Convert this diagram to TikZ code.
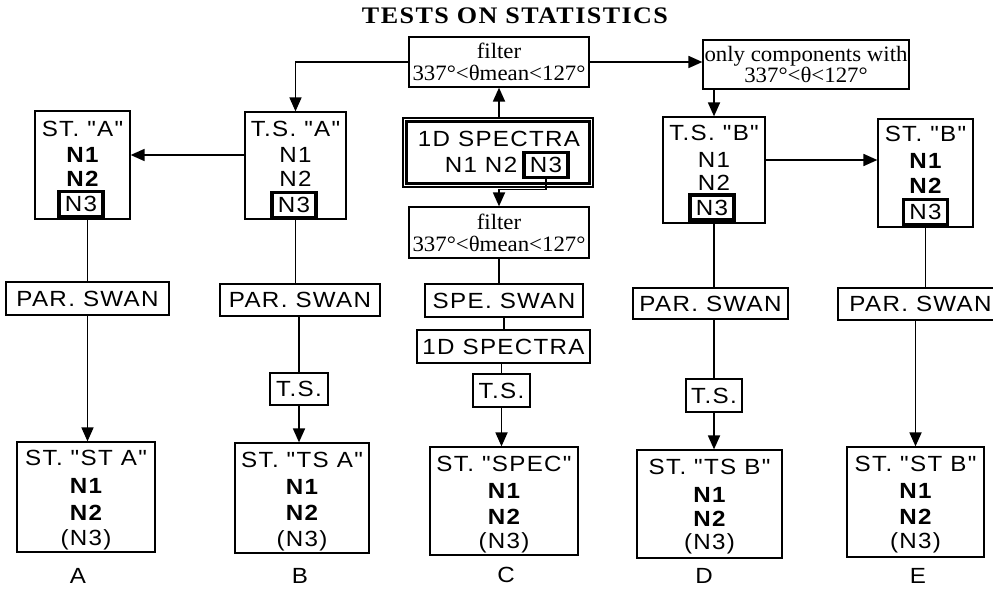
\documentclass[tikz,border=0pt]{standalone}
\usepackage{fontspec}
\usetikzlibrary{arrows.meta}
\setmainfont{Liberation Serif}
\newfontfamily\boxfont[FakeStretch=1.1,LetterSpace=6]{Liberation Sans}
\newfontfamily\notefont[FakeStretch=1.04]{Liberation Serif}
\newfontfamily\headfont[FakeStretch=1.1,LetterSpace=6]{Liberation Serif}
\newlength\unitpx
\setlength\unitpx{0.02cm}
\tikzset{
  frame/.style={draw,line width=.7pt,inner sep=0pt},
  sz/.style 2 args={minimum width=#1\unitpx,minimum height=#2\unitpx},
  word/.style={inner sep=0pt,font=\boxfont\fontsize{12.5}{13}\selectfont},
  bword/.style={inner sep=0pt,font=\boxfont\fontsize{12.5}{13}\selectfont\bfseries},
  nthree/.style={draw,line width=2.2pt,inner sep=0pt,sz={44}{25},font=\boxfont\fontsize{12.5}{13}\selectfont},
  note/.style={frame,align=center,font=\notefont\fontsize{12.5}{12.5}\selectfont},
  flow/.style={line width=1pt},
  arr/.style={flow,-{Triangle[length=2.8mm,width=2.4mm]}},
}
\begin{document}
\begin{tikzpicture}[x=0.02cm,y=-0.02cm]
\useasboundingbox (0,0) rectangle (993,588);
% title
\node[font=\headfont\fontsize{13.5}{15}\selectfont\bfseries] (title) at (515,16) {TESTS ON STATISTICS};
% the two angle filters on top
\node[note,sz={180}{50}] (fltTop) at (499,62) {filter\\337°<θmean<127°};
\node[note,sz={206}{49}] (onlyBox) at (806,64.5) {only components with\\337°<θ<127°};
% column C: spectra
\node[frame,sz={190}{69}] (spec) at (498,152.5) {};
\draw[line width=1.7pt] ([shift={(4.5,-4.5)}]spec.south west) rectangle ([shift={(-4.5,4.5)}]spec.north east);
\node[word] (specT) at (499,139) {1D SPECTRA};
\node[word] (specN) at (481,165) {N1 N2};
\node[nthree] (specN3) at (546,165) {N3};
\node[note,sz={180}{51}] (fltLow) at (499,232.5) {filter\\337°<θmean<127°};
\node[frame,word,sz={158}{33}] (speSwan) at (504,300.5) {SPE. SWAN};
\node[frame,word,sz={173}{33}] (spec1D) at (503.5,346.5) {1D SPECTRA};
\node[frame,word,sz={57}{33}] (tsC) at (501.5,390.5) {T.S.};
\node[frame,sz={148}{108}] (stSpec) at (504,501) {};
\node[word] (stSpecT) at (504,464) {ST. "SPEC"};
\node[bword] (stSpecN1) at (504,491) {N1};
\node[bword] (stSpecN2) at (504,517) {N2};
\node[word] (stSpecN3) at (504,543) {(N3)};
\node[word] (labC) at (506,575) {C};
% column A
\node[frame,sz={95}{108}] (stA) at (82.5,165) {};
\node[word] (stAt) at (82.5,129) {ST. "A"};
\node[bword] (stAn1) at (82.5,155) {N1};
\node[bword] (stAn2) at (82.5,179) {N2};
\node[nthree] (stAn3) at (81,204) {N3};
\node[frame,word,sz={163}{33}] (parA) at (87.5,298.5) {PAR. SWAN};
\node[frame,sz={138}{110}] (stStA) at (86,497) {};
\node[word] (stStAt) at (86,458) {ST. "ST A"};
\node[bword] (stStAn1) at (86,486) {N1};
\node[bword] (stStAn2) at (86,513) {N2};
\node[word] (stStAn3) at (86,540) {(N3)};
\node[word] (labA) at (78,576) {A};
% column B
\node[frame,sz={101}{107}] (tsA) at (295.5,165.5) {};
\node[word] (tsAt) at (295.5,129) {T.S. "A"};
\node[word] (tsAn1) at (295.5,155) {N1};
\node[word] (tsAn2) at (295.5,179) {N2};
\node[nthree] (tsAn3) at (294,205) {N3};
\node[frame,word,sz={160}{32}] (parB) at (300,300) {PAR. SWAN};
\node[frame,word,sz={58}{32}] (tsColB) at (299,389) {T.S.};
\node[frame,sz={134}{110}] (stTsA) at (302,498) {};
\node[word] (stTsAt) at (302,460) {ST. "TS A"};
\node[bword] (stTsAn1) at (302,487) {N1};
\node[bword] (stTsAn2) at (302,513) {N2};
\node[word] (stTsAn3) at (302,541) {(N3)};
\node[word] (labB) at (300,576) {B};
% column D
\node[frame,sz={102}{106}] (tsB) at (714,170) {};
\node[word] (tsBt) at (714,133) {T.S. "B"};
\node[word] (tsBn1) at (714,160) {N1};
\node[word] (tsBn2) at (714,183) {N2};
\node[nthree] (tsBn3) at (712,207.5) {N3};
\node[frame,word,sz={155}{31}] (parD) at (710.5,303.5) {PAR. SWAN};
\node[frame,word,sz={56}{33}] (tsColD) at (714,395.5) {T.S.};
\node[frame,sz={145}{108}] (stTsB) at (709.5,504) {};
\node[word] (stTsBt) at (709.5,467) {ST. "TS B"};
\node[bword] (stTsBn1) at (709.5,495) {N1};
\node[bword] (stTsBn2) at (709.5,519) {N2};
\node[word] (stTsBn3) at (709.5,544) {(N3)};
\node[word] (labD) at (704,576) {D};
% column E
\node[frame,sz={95}{108}] (stB) at (925.5,173) {};
\node[word] (stBt) at (925.5,134) {ST. "B"};
\node[bword] (stBn1) at (925.5,161) {N1};
\node[bword] (stBn2) at (925.5,186) {N2};
\node[nthree] (stBn3) at (925.5,212) {N3};
\node[frame,word,sz={165}{32}] (parE) at (920.5,304) {PAR. SWAN};
\node[frame,sz={137}{110}] (stStB) at (915.5,502) {};
\node[word] (stStBt) at (915.5,464) {ST. "ST B"};
\node[bword] (stStBn1) at (915.5,491) {N1};
\node[bword] (stStBn2) at (915.5,517) {N2};
\node[word] (stStBn3) at (915.5,543) {(N3)};
\node[word] (labE) at (918,576) {E};
% connectors
\draw[arr] (fltTop.east) -- (fltTop.east -| onlyBox.west);
\draw[arr] (fltTop.west) -| (tsA.north);
\draw[arr] (spec.north -| specT) -- (specT |- fltTop.south);
\draw[arr] (specN3.south) -- ++(0,10) -| (fltLow.north);
\draw[flow] (fltLow.south) -- (fltLow.south |- speSwan.north);
\draw[flow] (speSwan.south) -- (speSwan.south |- spec1D.north);
\draw[flow] (tsC.north |- spec1D.south) -- (tsC.north);
\draw[arr] (tsC.south) -- (tsC.south |- stSpec.north);
\draw[arr] (tsAn1 -| tsA.west) -- (tsAn1 -| stA.east);
\draw[flow] (parA.north |- stA.south) -- (parA.north);
\draw[arr] (parA.south) -- (parA.south |- stStA.north);
\draw[flow] (tsA.south) -- (tsA.south |- parB.north);
\draw[flow] (tsColB.north |- parB.south) -- (tsColB.north);
\draw[arr] (tsColB.south) -- (tsColB.south |- stTsA.north);
\draw[arr] (tsB.north |- onlyBox.south) -- (tsB.north);
\draw[arr] (tsBn1 -| tsB.east) -- (tsBn1 -| stB.west);
\draw[flow] (tsB.south) -- (tsB.south |- parD.north);
\draw[flow] (tsColD.north |- parD.south) -- (tsColD.north);
\draw[arr] (tsColD.south) -- (tsColD.south |- stTsB.north);
\draw[flow] (stB.south) -- (stB.south |- parE.north);
\draw[arr] (stStB.north |- parE.south) -- (stStB.north);
\end{tikzpicture}
\end{document}
